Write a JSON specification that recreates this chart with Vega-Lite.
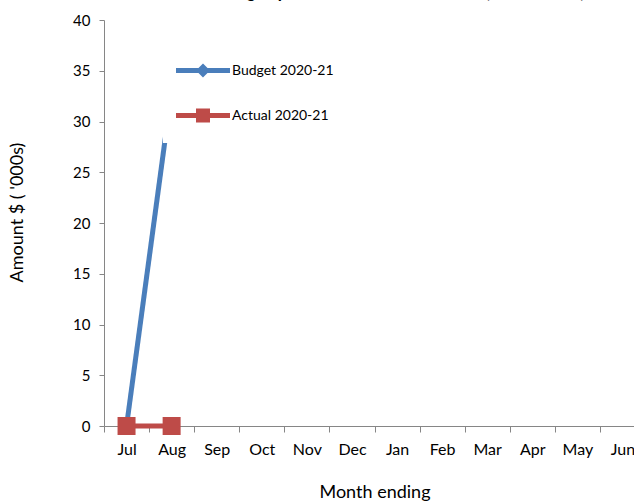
{
  "$schema": "https://vega.github.io/schema/vega-lite/v6.json",
  "width": 541,
  "height": 406,
  "autosize": {"type": "none"},
  "padding": {"left": 104, "top": 20, "right": 0, "bottom": 75},
  "background": "white",
  "title": {
    "text": "Building expenditure – Administration (Year to date)",
    "font": "Lato",
    "fontSize": 17,
    "fontWeight": "bold",
    "baseline": "alphabetic",
    "offset": -2,
    "anchor": "middle",
    "dx": 15,
    "color": "black"
  },
  "config": {
    "view": {"stroke": null},
    "font": "Lato",
    "axis": {"grid": false}
  },
  "data": {
    "values": [
      {"month": "Jul", "series": "Budget 2020-21", "value": 0},
      {"month": "Aug", "series": "Budget 2020-21", "value": 33},
      {"month": "Jul", "series": "Actual 2020-21", "value": 0},
      {"month": "Aug", "series": "Actual 2020-21", "value": 0}
    ]
  },
  "encoding": {
    "x": {
      "field": "month",
      "type": "ordinal",
      "sort": null,
      "scale": {
        "type": "band",
        "domain": ["Jul", "Aug", "Sep", "Oct", "Nov", "Dec", "Jan", "Feb", "Mar", "Apr", "May", "Jun"],
        "paddingInner": 0,
        "paddingOuter": 0
      },
      "axis": {
        "title": "Month ending",
        "titleFont": "Lato",
        "titleFontSize": 18,
        "titleFontWeight": "normal",
        "titleColor": "black",
        "titlePadding": 26,
        "labelFont": "Lato",
        "labelFontSize": 16,
        "labelColor": "black",
        "labelAngle": 0,
        "labelPadding": 9,
        "domainColor": "#868686",
        "tickColor": "#868686",
        "tickSize": 6,
        "tickBand": "extent"
      }
    },
    "y": {
      "field": "value",
      "type": "quantitative",
      "scale": {"domain": [0, 40], "nice": false, "zero": true},
      "axis": {
        "title": "Amount $ ( '000s)",
        "titleFont": "Lato",
        "titleFontSize": 18,
        "titleFontWeight": "normal",
        "titleColor": "black",
        "titlePadding": 46,
        "titleY": 192,
        "values": [0, 5, 10, 15, 20, 25, 30, 35, 40],
        "labelFont": "Lato",
        "labelFontSize": 15,
        "labelColor": "black",
        "labelPadding": 9,
        "domainColor": "#868686",
        "tickColor": "#868686",
        "tickSize": 5
      }
    },
    "color": {
      "field": "series",
      "type": "nominal",
      "scale": {
        "domain": ["Budget 2020-21", "Actual 2020-21"],
        "range": ["#4A7EBB", "#BE4B48"]
      },
      "legend": {
        "title": null,
        "orient": "none",
        "legendX": 59,
        "legendY": 23,
        "padding": 5,
        "fillColor": "white",
        "symbolSize": 2916,
        "symbolOffset": 8,
        "labelOffset": 2,
        "labelFont": "Lato",
        "labelFontSize": 14,
        "labelColor": "black",
        "rowPadding": 0,
        "clipHeight": 45,
        "symbolStrokeWidth": 0,
        "encode": {
          "symbols": {
            "update": {
              "shape": {"signal": "datum.value === 'Budget 2020-21' ? 'M-1,-0.09L1,-0.09L1,0.09L-1,0.09Z M0,-0.26L0.26,0L0,0.26L-0.26,0Z' : 'M-1,-0.09L1,-0.09L1,0.09L-1,0.09Z M-0.26,-0.26L0.26,-0.26L0.26,0.26L-0.26,0.26Z'"},
              "fill": {"scale": "color", "field": "value"},
              "strokeWidth": {"value": 0},
              "opacity": {"value": 1},
              "fillOpacity": {"value": 1}
            }
          }
        }
      }
    }
  },
  "layer": [
    {"mark": {"type": "line", "strokeWidth": 5}},
    {
      "transform": [{"filter": "datum.series === 'Actual 2020-21'"}],
      "mark": {"type": "square", "size": 324, "filled": true, "opacity": 1}
    }
  ]
}
